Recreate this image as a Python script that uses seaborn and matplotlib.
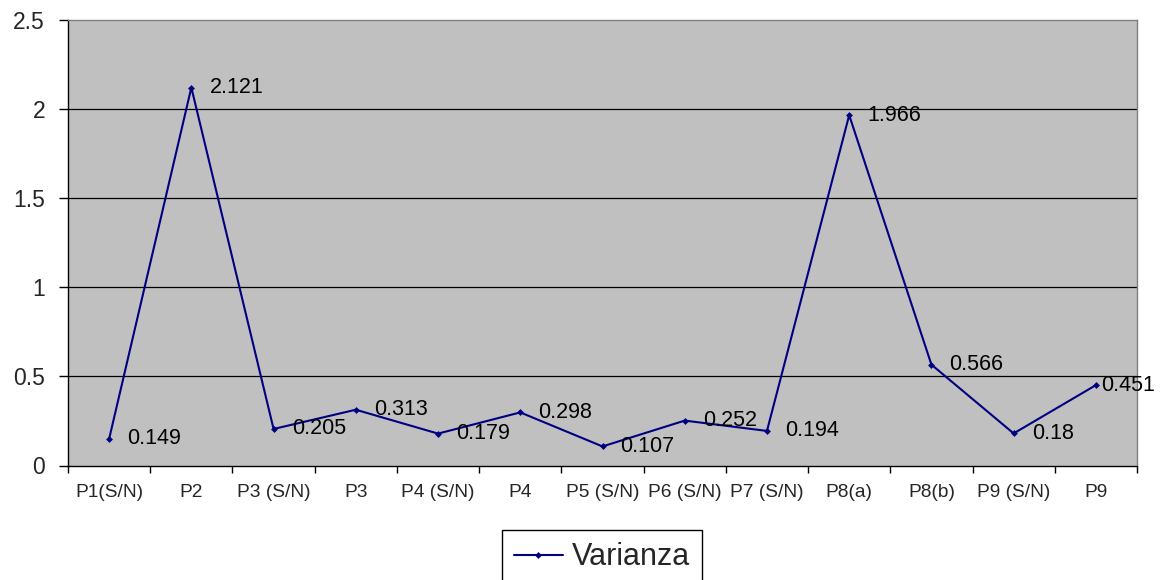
import numpy as np
import pandas as pd
import matplotlib
matplotlib.use("Agg")
import matplotlib.pyplot as plt
import seaborn as sns
from matplotlib.ticker import FixedLocator, NullFormatter

categories = ["P1(S/N)", "P2", "P3 (S/N)", "P3", "P4 (S/N)", "P4", "P5 (S/N)",
              "P6 (S/N)", "P7 (S/N)", "P8(a)", "P8(b)", "P9 (S/N)", "P9"]
varianza = [0.149, 2.121, 0.205, 0.313, 0.179, 0.298, 0.107,
            0.252, 0.194, 1.966, 0.566, 0.18, 0.451]
value_labels = ["0.149", "2.121", "0.205", "0.313", "0.179", "0.298", "0.107",
                "0.252", "0.194", "1.966", "0.566", "0.18", "0.451"]
y_ticks = [0, 0.5, 1, 1.5, 2, 2.5]
y_tick_labels = ["0", "0.5", "1", "1.5", "2", "2.5"]

sns.set_style("white")
plt.rcParams["font.family"] = ["Liberation Sans", "DejaVu Sans"]

df = pd.DataFrame({"pos": np.arange(len(categories)), "Varianza": varianza})

fig = plt.figure(figsize=(11.65, 5.8), dpi=100)
ax = fig.add_axes([68 / 1165, 1 - 465.5 / 580, (1137 - 68) / 1165, (465.5 - 20) / 580])
ax.set_facecolor("#C0C0C0")

sns.lineplot(data=df, x="pos", y="Varianza", ax=ax, color="#000080",
             linewidth=1.5, marker="D", markersize=3.5, markeredgewidth=0,
             label="Varianza", zorder=3)

last = len(categories) - 1
for i, (x, y, t) in enumerate(zip(df["pos"], varianza, value_labels)):
    # the last label sits closer to its point so it stays inside the figure
    dx = 4 if i == last else 13
    ax.annotate(t, (x, y), xytext=(dx, 0), textcoords="offset points",
                ha="left", va="center", fontsize=15.5, color="black",
                annotation_clip=False, zorder=4)

ax.set_xlim(-0.5, len(categories) - 0.5)
ax.set_ylim(0, 2.5)

# horizontal grid
for yv in y_ticks[1:-1]:
    ax.axhline(yv, color="black", linewidth=0.9, zorder=1)

ax.set_yticks(y_ticks)
ax.set_yticklabels(y_tick_labels, fontsize=16.5)
ax.tick_params(axis="y", direction="out", length=6.5, width=1, color="black", pad=10, left=True)

# category labels centered, tick marks between categories
ax.set_xticks(np.arange(len(categories)))
ax.set_xticklabels(categories, fontsize=13.8)
ax.xaxis.set_minor_locator(FixedLocator(np.arange(len(categories) + 1) - 0.5))
ax.xaxis.set_minor_formatter(NullFormatter())
ax.tick_params(axis="x", which="major", length=0, pad=13)
ax.tick_params(axis="x", which="minor", direction="out", length=5, width=1,
               color="black", bottom=True)

ax.set_xlabel("")
ax.set_ylabel("")

for side in ["left", "bottom"]:
    ax.spines[side].set_color("black")
    ax.spines[side].set_linewidth(1.0)
for side in ["top", "right"]:
    ax.spines[side].set_color("#808080")
    ax.spines[side].set_linewidth(1.0)

leg = ax.legend(loc="upper center", bbox_to_anchor=(602 / 1165, 50 / 580),
                bbox_transform=fig.transFigure, fontsize=22, frameon=True,
                fancybox=False, handlelength=1.6, handletextpad=0.3,
                borderpad=0.4, borderaxespad=0)
leg.get_frame().set_edgecolor("black")
leg.get_frame().set_linewidth(1.0)
leg.get_frame().set_facecolor("white")
leg.get_frame().set_alpha(1)

fig.savefig("out.png", dpi=100)
